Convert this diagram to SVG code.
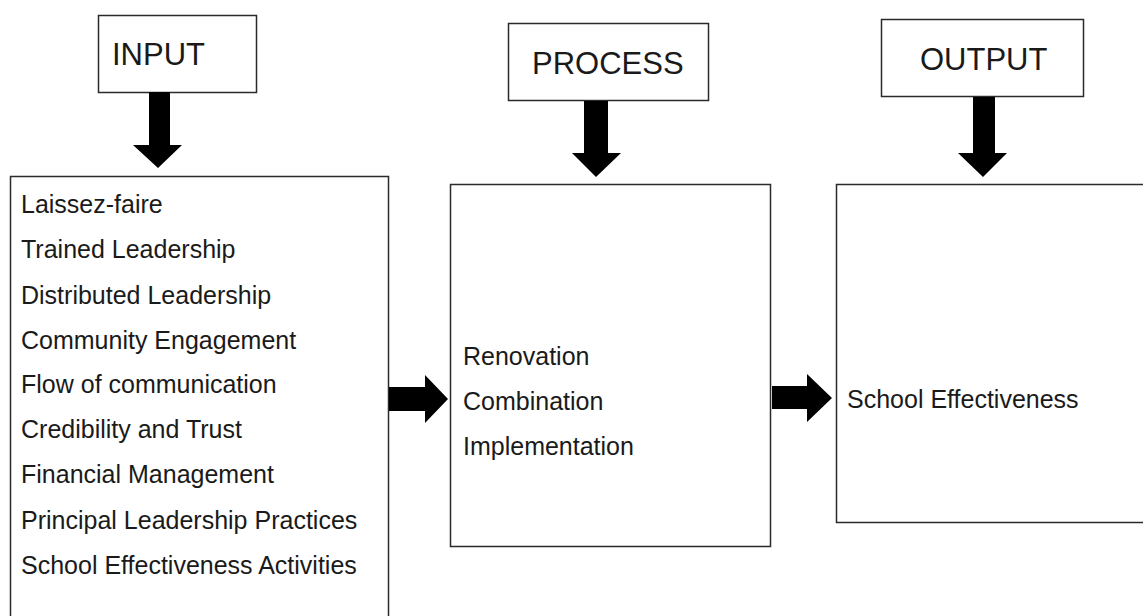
<svg xmlns="http://www.w3.org/2000/svg" width="1143" height="616" viewBox="0 0 1143 616">
<style>
.box{fill:#fff;stroke:#2a2a2a;stroke-width:1.5}
.h{font-family:"Liberation Sans",Arial,sans-serif;font-size:31px;fill:#1a1a1a}
.t{font-family:"Liberation Sans",Arial,sans-serif;font-size:25px;fill:#1a1a1a}
.arr{fill:#000;stroke:none}
</style>
<rect width="1143" height="616" fill="#fff"/>
<g id="input-label">
<rect class="box" x="98.5" y="15.5" width="158" height="77"/>
<text class="h" x="112" y="65">INPUT</text>
</g>
<g id="process-label">
<rect class="box" x="508.5" y="23.5" width="200" height="77"/>
<text class="h" x="532" y="74">PROCESS</text>
</g>
<g id="output-label">
<rect class="box" x="881.5" y="19.5" width="202" height="77"/>
<text class="h" x="920" y="70">OUTPUT</text>
</g>
<g id="input-box">
<rect class="box" x="10.5" y="176.5" width="378" height="450"/>
<text class="t" x="21" y="213">Laissez-faire</text>
<text class="t" x="21" y="258">Trained Leadership</text>
<text class="t" x="21" y="304">Distributed Leadership</text>
<text class="t" x="21" y="349">Community Engagement</text>
<text class="t" x="21" y="393">Flow of communication</text>
<text class="t" x="21" y="438">Credibility and Trust</text>
<text class="t" x="21" y="483">Financial Management</text>
<text class="t" x="21" y="529">Principal Leadership Practices</text>
<text class="t" x="21" y="574">School Effectiveness Activities</text>
</g>
<g id="process-box">
<rect class="box" x="450.5" y="184.5" width="320" height="362"/>
<text class="t" x="463" y="365">Renovation</text>
<text class="t" x="463" y="410">Combination</text>
<text class="t" x="463" y="455">Implementation</text>
</g>
<g id="output-box">
<rect class="box" x="836.5" y="184.5" width="320" height="338"/>
<text class="t" x="847" y="408">School Effectiveness</text>
</g>
<g id="connectors">
<polygon class="arr" points="149,92 170,92 170,145 182,145 158,168 133,145 149,145"/>
<polygon class="arr" points="584,101 608,101 608,153 621,153 596,177 572,153 584,153"/>
<polygon class="arr" points="973,97 995,97 995,153 1007,153 983,177 958,153 973,153"/>
<polygon class="arr" points="389,387 425,387 425,375 448,399 425,423 425,411 389,411"/>
<polygon class="arr" points="772,386 807,386 807,374 832,398 807,422 807,409 772,409"/>
</g>
</svg>
